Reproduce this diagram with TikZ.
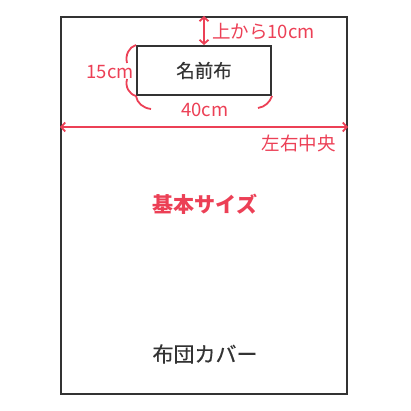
\documentclass[tikz,border=0pt]{standalone}
\usepackage{fontspec}
\setmainfont{Noto Sans CJK JP}
\newfontfamily\jpmid[FakeBold=0.5]{Noto Sans CJK JP}
\usetikzlibrary{arrows.meta,positioning}
\definecolor{markred}{RGB}{236,64,86}
\definecolor{inkgray}{RGB}{51,51,51}

\begin{document}
\begin{tikzpicture}[x=1pt,y=-1pt,
  frame/.style={draw=inkgray,line width=2pt,inner sep=0pt},
  dim/.style={draw=markred,line width=1.8pt},
  dimarrow/.style={dim,{Straight Barb[length=4pt,width=9pt]}-{Straight Barb[length=4pt,width=9pt]}},
  dimlabel/.style={text=markred,font=\fontsize{18.5}{20}\selectfont,inner sep=0pt}]
  \useasboundingbox (0,0) rectangle (411,411);
  \node[frame,minimum width=286pt,minimum height=377pt] (cover) at (204,205.5) {};
  \node[frame,minimum width=134pt,minimum height=49pt,
    font=\jpmid\fontsize{18.5}{20}\selectfont,text=inkgray] (tag) at (204,70.5) {名前布};
  \node[text=markred,font=\fontsize{21}{23}\selectfont\bfseries] (basic) at (205,204) {基本サイズ};
  \node[text=inkgray,font=\jpmid\fontsize{21}{23}\selectfont] (name) at (205,354) {布団カバー};
  % dimensions
  \node[dimlabel,anchor=west] (top) at (212,31) {上から10cm};
  \node[dimlabel,anchor=east] (height) at (134,72) {15cm};
  \node[dimlabel] (width) at (205,110) {40cm};
  \node[dimlabel,anchor=east] (center) at (336,143) {左右中央};
  \coordinate (left) at (cover.west |- 0,127);
  \coordinate (right) at (cover.east |- 0,127);
  \draw[dimarrow] (tag.north) -- (tag.north |- cover.north);
  \draw[dimarrow] (left) -- (right);
  % braces
  \draw[dim] (tag.north west) .. controls (129,47) and (125,55) .. (127,63);
  \draw[dim] (127,79) .. controls (125,87) and (129,94) .. (tag.south west);
  \draw[dim] (tag.south west) .. controls (137,103) and (143,108) .. (151,109);
  \draw[dim] (258,108) .. controls (265,107) and (270,102) .. (tag.south east);
\end{tikzpicture}
\end{document}
